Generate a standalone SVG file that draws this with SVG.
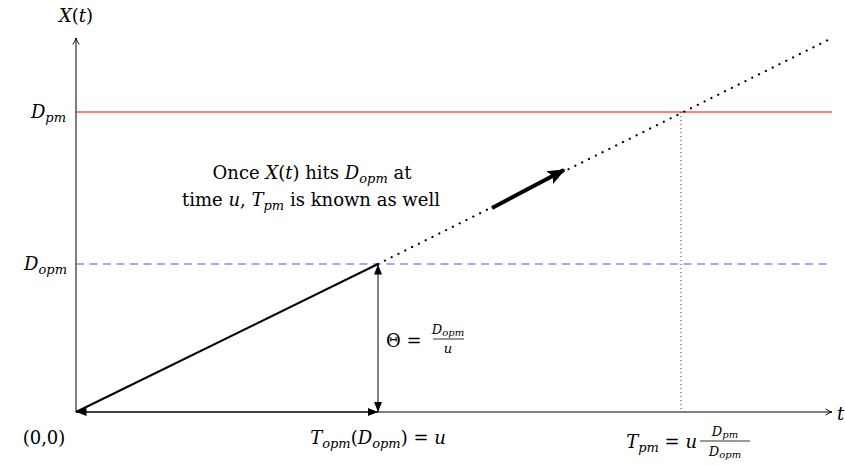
<svg xmlns="http://www.w3.org/2000/svg" width="845" height="465" viewBox="0 0 845 465">
<defs>
<marker id="open" viewBox="0 0 10 10" refX="9" refY="5" markerWidth="8" markerHeight="8" markerUnits="userSpaceOnUse" orient="auto"><path d="M1,1 Q5,4 9,5 Q5,6 1,9" fill="none" stroke="#000" stroke-width="1.2"/></marker>
<marker id="tri" viewBox="0 0 10 10" refX="10" refY="5" markerWidth="10" markerHeight="10" markerUnits="userSpaceOnUse" orient="auto-start-reverse"><path d="M0,1 L10,5 L0,9 Z" fill="#000"/></marker>
<marker id="big" viewBox="0 0 10 10" refX="9" refY="5" markerWidth="4.5" markerHeight="4.5" orient="auto"><path d="M0,1 L10,5 L0,9 L2,5 Z" fill="#000"/></marker>
</defs>
<style>
.i{font-style:italic}
.s{font-size:13px;font-style:italic}
</style>
<rect width="845" height="465" fill="#fff"/>
<g id="connectors">
<line x1="76" y1="412" x2="76" y2="38" stroke="#000" stroke-width="1" marker-end="url(#open)"/>
<line x1="76" y1="412" x2="832" y2="412" stroke="#000" stroke-width="1" marker-end="url(#open)"/>
<line x1="76" y1="112" x2="832" y2="112" stroke="#f00" stroke-width="1"/>
<line x1="76" y1="264" x2="832" y2="264" stroke="#4d4dff" stroke-width="1" stroke-dasharray="8,5.5"/>
<line x1="681" y1="112" x2="681" y2="412" stroke="#000" stroke-width="0.8" stroke-dasharray="1,3"/>
<line x1="76" y1="412" x2="378" y2="264" stroke="#000" stroke-width="2"/>
<line x1="378" y1="264" x2="832" y2="38" stroke="#000" stroke-width="2.2" stroke-dasharray="0.1,7.5" stroke-linecap="round"/>
<line x1="378" y1="412" x2="378" y2="264.5" stroke="#000" stroke-width="1" marker-start="url(#tri)" marker-end="url(#tri)"/>
<line x1="76.5" y1="412" x2="378" y2="412" stroke="#000" stroke-width="1.2" marker-start="url(#tri)" marker-end="url(#tri)"/>
<line x1="492" y1="208" x2="564" y2="170" stroke="#000" stroke-width="4" marker-end="url(#big)"/>
</g>
<g font-family="'DejaVu Serif', 'Liberation Serif', serif" font-size="18" fill="#000">
<g id="label-Xt"><text x="76" y="22" text-anchor="middle"><tspan class="i">X</tspan>(<tspan class="i">t</tspan>)</text></g>
<g id="label-t"><text x="837" y="420" class="i">t</text></g>
<g id="label-Dpm"><text x="66" y="118" text-anchor="end" class="i">D<tspan class="s" dy="4">pm</tspan></text></g>
<g id="label-Dopm"><text x="67" y="270" text-anchor="end" class="i">D<tspan class="s" dy="4">opm</tspan></text></g>
<g id="label-origin"><text x="44" y="444" text-anchor="middle">(0,0)</text></g>
<g id="label-theta">
<text x="386" y="347">Θ =</text>
<text x="448" y="334" text-anchor="middle" class="i" font-size="13">D<tspan font-size="10" dy="2">opm</tspan></text>
<line x1="433" y1="339" x2="464" y2="339" stroke="#000" stroke-width="0.8"/>
<text x="448" y="353" text-anchor="middle" class="i" font-size="13">u</text>
</g>
<g id="label-topm"><text x="378" y="444" text-anchor="middle"><tspan class="i">T</tspan><tspan class="s" dy="4">opm</tspan><tspan dy="-4">(</tspan><tspan class="i">D</tspan><tspan class="s" dy="4">opm</tspan><tspan dy="-4">) = </tspan><tspan class="i">u</tspan></text></g>
<g id="label-tpm">
<text x="697" y="448" text-anchor="end"><tspan class="i">T</tspan><tspan class="s" dy="4">pm</tspan><tspan dy="-4"> = </tspan><tspan class="i">u</tspan></text>
<text x="725" y="436" text-anchor="middle" class="i" font-size="13">D<tspan font-size="10" dy="2">pm</tspan></text>
<line x1="700" y1="441" x2="750" y2="441" stroke="#000" stroke-width="0.8"/>
<text x="725" y="456" text-anchor="middle" class="i" font-size="13">D<tspan font-size="10" dy="2">opm</tspan></text>
</g>
<g id="label-note">
<text x="312" y="179" text-anchor="middle">Once <tspan class="i">X</tspan>(<tspan class="i">t</tspan>) hits <tspan class="i">D</tspan><tspan class="s" dy="4">opm</tspan><tspan dy="-4"> at</tspan></text>
<text x="311" y="206" text-anchor="middle">time <tspan class="i">u</tspan>, <tspan class="i">T</tspan><tspan class="s" dy="4">pm</tspan><tspan dy="-4"> is known as well</tspan></text>
</g>
</g>
</svg>
